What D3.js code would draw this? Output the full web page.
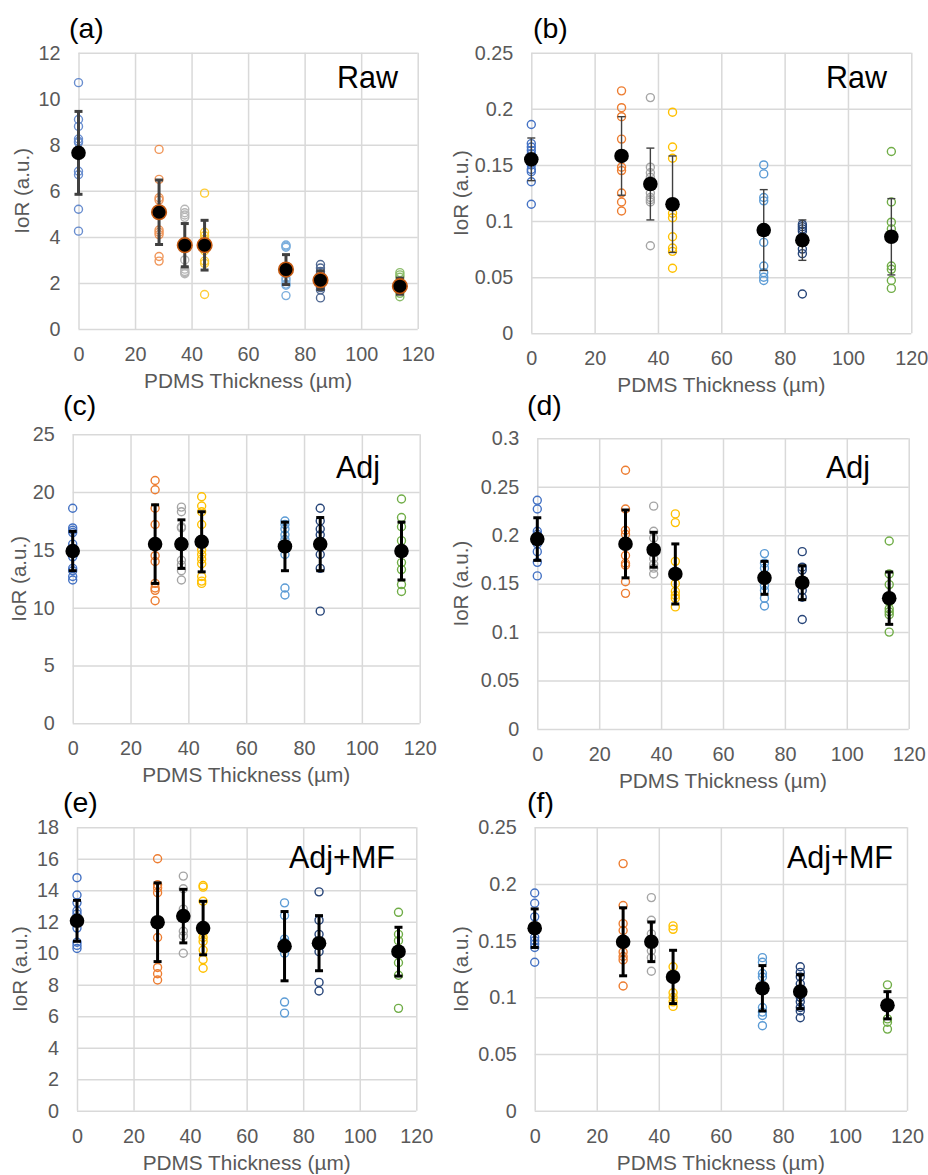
<!DOCTYPE html>
<html><head><meta charset="utf-8">
<script src="https://cdn.jsdelivr.net/npm/d3@7"></script>
<style>
html,body{margin:0;padding:0;background:#fff;}
svg{display:block;font-family:"Liberation Sans",Arial,Helvetica,sans-serif;}
</style></head>
<body>
<svg id="chart" width="928" height="1175"></svg>
<script>
// ---------- DATA ----------
const thickness = [0, 28.5, 37.6, 44.6, 73.4, 85.6, 113.7];
const groupColors = ["#4472C4", "#ED7D31", "#A5A5A5", "#FFC000", "#5B9BD5", "#264478", "#70AD47"];
const xTicks = [0, 20, 40, 60, 80, 100, 120];
const xTitle = "PDMS Thickness (µm)";
const yTitle = "IoR (a.u.)";

// (a) Raw, absolute
const aPoints = [
  [10.7, 9.1, 8.8, 8.25, 8.15, 8.1, 6.85, 6.7, 5.2, 4.25],
  [7.8, 6.5, 5.7, 5.6, 4.3, 4.2, 4.1, 3.15, 2.95],
  [5.2, 5.05, 4.95, 4.85, 3.0, 2.6, 2.5, 2.45, 2.4],
  [5.9, 4.2, 4.05, 3.9, 3.6, 3.4, 2.95, 2.85, 1.5],
  [3.65, 3.6, 3.55, 2.2, 2.1, 1.95, 1.9, 1.45],
  [2.8, 2.65, 2.5, 2.4, 2.2, 1.8, 1.7, 1.35],
  [2.45, 2.35, 2.25, 2.05, 1.9, 1.7, 1.55, 1.4]
];
const aMean = [7.65, 5.07, 3.64, 3.64, 2.58, 2.12, 1.86];
const aSD = [1.8, 1.4, 0.94, 1.08, 0.65, 0.4, 0.35];
const aYTicks = [0, 2, 4, 6, 8, 10, 12];

// (b) Raw, relative
const bPoints = [
  [0.186, 0.169, 0.166, 0.163, 0.160, 0.150, 0.146, 0.144, 0.135, 0.115],
  [0.216, 0.201, 0.193, 0.173, 0.148, 0.145, 0.125, 0.117, 0.109],
  [0.210, 0.148, 0.143, 0.139, 0.135, 0.125, 0.121, 0.119, 0.117, 0.078],
  [0.197, 0.166, 0.156, 0.115, 0.107, 0.103, 0.086, 0.076, 0.073, 0.058],
  [0.150, 0.142, 0.121, 0.118, 0.081, 0.060, 0.054, 0.050, 0.047],
  [0.097, 0.095, 0.093, 0.091, 0.075, 0.071, 0.035],
  [0.162, 0.117, 0.099, 0.093, 0.060, 0.057, 0.047, 0.040]
];
const bMean = [0.155, 0.158, 0.133, 0.115, 0.092, 0.083, 0.086];
const bSD = [0.019, 0.035, 0.032, 0.043, 0.036, 0.018, 0.034];
const bYTicks = [0, 0.05, 0.1, 0.15, 0.2, 0.25];

// (c) Adj, absolute
const cPoints = [
  [18.6, 16.9, 16.7, 16.5, 15.5, 14.4, 13.4, 13.2, 12.7, 12.4],
  [21.0, 20.2, 18.6, 17.2, 14.5, 14.0, 12.1, 11.7, 11.5, 10.6],
  [18.7, 18.3, 17.0, 16.9, 14.1, 13.7, 13.2, 12.4],
  [19.6, 18.8, 18.3, 17.2, 15.0, 14.6, 14.2, 13.8, 12.7, 12.3, 12.1],
  [17.5, 17.2, 16.8, 16.3, 15.9, 15.2, 14.6, 11.7, 11.1],
  [18.6, 17.5, 16.8, 16.3, 15.5, 14.6, 13.4, 9.7],
  [19.4, 17.8, 17.0, 15.8, 14.8, 13.9, 13.3, 12.0, 11.4]
];
const cMean = [14.9, 15.5, 15.5, 15.7, 15.3, 15.5, 14.9];
const cSD = [1.7, 3.4, 2.1, 2.6, 2.1, 2.3, 2.5];
const cYTicks = [0, 5, 10, 15, 20, 25];

// (d) Adj, relative
const dPoints = [
  [0.236, 0.227, 0.204, 0.201, 0.191, 0.183, 0.172, 0.158],
  [0.267, 0.227, 0.205, 0.201, 0.179, 0.171, 0.169, 0.152, 0.140],
  [0.230, 0.204, 0.197, 0.176, 0.170, 0.166, 0.160],
  [0.222, 0.213, 0.173, 0.150, 0.142, 0.138, 0.135, 0.126],
  [0.181, 0.171, 0.166, 0.159, 0.148, 0.143, 0.135, 0.127],
  [0.183, 0.167, 0.164, 0.143, 0.136, 0.113],
  [0.194, 0.160, 0.149, 0.131, 0.124, 0.121, 0.118, 0.100]
];
const dMean = [0.196, 0.191, 0.185, 0.160, 0.156, 0.151, 0.135];
const dSD = [0.022, 0.035, 0.018, 0.031, 0.017, 0.0175, 0.027];
const dYTicks = [0, 0.05, 0.1, 0.15, 0.2, 0.25, 0.3];

// (e) Adj+MF, absolute
const ePoints = [
  [14.8, 13.7, 13.2, 12.7, 12.5, 11.6, 10.7, 10.5, 10.3],
  [16.0, 14.35, 14.15, 13.85, 11.0, 9.1, 8.7, 8.3],
  [14.9, 14.1, 12.8, 11.4, 11.1, 10.0],
  [14.3, 14.2, 13.3, 11.3, 11.0, 10.75, 10.2, 9.6, 9.05],
  [13.2, 12.4, 10.9, 10.7, 10.0, 6.9, 6.2],
  [13.9, 12.1, 11.2, 10.1, 8.15, 7.6],
  [12.6, 11.2, 10.8, 10.2, 9.4, 8.6, 6.5]
];
const eMean = [12.06, 11.97, 12.36, 11.6, 10.45, 10.64, 10.1];
const eSD = [1.3, 2.5, 1.7, 1.7, 2.2, 1.75, 1.55];
const eYTicks = [0, 2, 4, 6, 8, 10, 12, 14, 16, 18];

// (f) Adj+MF, relative
const fPoints = [
  [0.192, 0.183, 0.171, 0.153, 0.150, 0.147, 0.144, 0.131],
  [0.218, 0.181, 0.165, 0.159, 0.140, 0.136, 0.133, 0.110],
  [0.188, 0.168, 0.156, 0.141, 0.135, 0.123],
  [0.163, 0.160, 0.127, 0.104, 0.100, 0.096, 0.092],
  [0.135, 0.131, 0.121, 0.118, 0.091, 0.087, 0.084, 0.075],
  [0.127, 0.122, 0.118, 0.112, 0.100, 0.096, 0.091, 0.088, 0.082],
  [0.111, 0.081, 0.078, 0.072]
];
const fMean = [0.161, 0.149, 0.149, 0.118, 0.108, 0.105, 0.093];
const fSD = [0.017, 0.030, 0.0175, 0.0235, 0.020, 0.015, 0.012];
const fYTicks = [0, 0.05, 0.1, 0.15, 0.2, 0.25];

const panelLetters = ["(a)", "(b)", "(c)", "(d)", "(e)", "(f)"];
const panelNotes = ["Raw", "Raw", "Adj", "Adj", "Adj+MF", "Adj+MF"];

// ---------- LAYOUT ----------
const panels = [
  {pts: aPoints, mean: aMean, sd: aSD, ticks: aYTicks, rect: [78.5, 417.7, 52.7, 329], label: [69, 37.5], note: [337, 88], yt: 29, err: {c: "#404040", w: 3}, meanEdge: "#C55A11", ptOpacity: 0.8},
  {pts: bPoints, mean: bMean, sd: bSD, ticks: bYTicks, rect: [531.3, 911.3, 52.7, 333.3], label: [533, 37.5], note: [826, 88], yt: 468, err: {c: "#404040", w: 1.4}},
  {pts: cPoints, mean: cMean, sd: cSD, ticks: cYTicks, rect: [72.7, 419.7, 434.3, 723.3], label: [63, 415], note: [336, 478], yt: 26, err: {c: "#000", w: 3}},
  {pts: dPoints, mean: dMean, sd: dSD, ticks: dYTicks, rect: [537.3, 908.7, 438.3, 729], label: [527, 415], note: [826, 478], yt: 468, err: {c: "#000", w: 3}},
  {pts: ePoints, mean: eMean, sd: eSD, ticks: eYTicks, rect: [77, 416.3, 827.3, 1110.7], label: [63, 811.7], note: [289, 868], yt: 27, err: {c: "#000", w: 3}},
  {pts: fPoints, mean: fMean, sd: fSD, ticks: fYTicks, rect: [534.7, 907, 827.3, 1110.7], label: [527, 811.7], note: [787, 868], yt: 468, err: {c: "#000", w: 3}}
];

const svg = d3.select("#chart");
const fmt = v => String(+v.toFixed(3));
const gridColor = "#d9d9d9";
const textGray = "#595959";

panels.forEach((p, i) => {
  const [x0, x1, y0, y1] = p.rect;
  const w = x1 - x0, h = y1 - y0;
  const x = d3.scaleLinear().domain([0, 120]).range([x0, x1]);
  const y = d3.scaleLinear().domain([0, d3.max(p.ticks)]).range([y1, y0]);
  const g = svg.append("g");

  // axes + grid
  const ya = g.append("g").attr("transform", `translate(${x0},0)`)
    .call(d3.axisLeft(y).tickValues(p.ticks).tickFormat(fmt).tickSize(-w).tickPadding(18));
  const xa = g.append("g").attr("transform", `translate(0,${y1})`)
    .call(d3.axisBottom(x).tickValues(xTicks).tickFormat(fmt).tickSize(-h).tickPadding(18));
  [ya, xa].forEach(a => {
    a.select(".domain").remove();
    a.selectAll(".tick line").attr("stroke", gridColor).attr("stroke-width", 1.5);
    a.selectAll(".tick text").attr("fill", textGray).attr("font-size", 19.8)
      .attr("font-family", '"Liberation Sans",Arial,sans-serif');
  });

  // axis titles
  g.append("text").attr("x", (x0 + x1) / 2).attr("y", y1 + 59)
    .attr("text-anchor", "middle").attr("fill", textGray).attr("font-size", 20.8).text(xTitle);
  g.append("text").attr("transform", `translate(${p.yt},${(y0 + y1) / 2}) rotate(-90)`)
    .attr("text-anchor", "middle").attr("fill", textGray).attr("font-size", 20.6).text(yTitle);

  // individual points
  p.pts.forEach((arr, gi) => {
    g.append("g").attr("opacity", p.ptOpacity || 1)
      .selectAll("circle").data(arr).join("circle")
      .attr("cx", x(thickness[gi])).attr("cy", d => y(d)).attr("r", 4)
      .attr("fill", "none").attr("stroke", groupColors[gi]).attr("stroke-width", 1.4);
  });

  // error bars
  const eg = g.append("g").attr("stroke", p.err.c).attr("stroke-width", p.err.w);
  p.mean.forEach((m, gi) => {
    const cx = x(thickness[gi]);
    const top = y(m + p.sd[gi]), bot = y(m - p.sd[gi]);
    eg.append("line").attr("x1", cx).attr("x2", cx).attr("y1", top).attr("y2", bot);
    eg.append("line").attr("x1", cx - 4).attr("x2", cx + 4).attr("y1", top).attr("y2", top);
    eg.append("line").attr("x1", cx - 4).attr("x2", cx + 4).attr("y1", bot).attr("y2", bot);
  });

  // means
  g.append("g").selectAll("circle").data(p.mean).join("circle")
    .attr("cx", (d, gi) => x(thickness[gi])).attr("cy", d => y(d)).attr("r", 7.3)
    .attr("fill", "#000")
    .attr("stroke", (d, gi) => (p.meanEdge && gi > 0) ? p.meanEdge : "none")
    .attr("stroke-width", 1.6);

  // labels
  g.append("text").attr("x", p.label[0]).attr("y", p.label[1]).attr("font-size", 28.5)
    .attr("fill", "#000").text(panelLetters[i]);
  g.append("text").attr("x", p.note[0]).attr("y", p.note[1]).attr("font-size", 30.5)
    .attr("fill", "#000").text(panelNotes[i]);
});
</script>
</body></html>
